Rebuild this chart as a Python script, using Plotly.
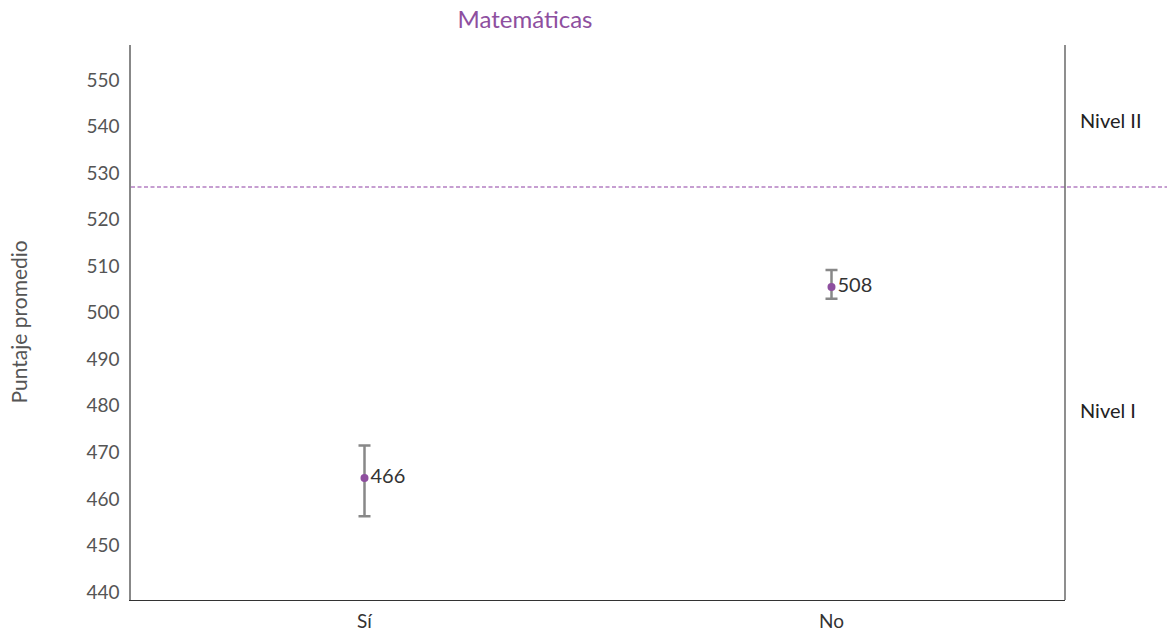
import plotly.graph_objects as go

categories = ["Sí", "No"]
means = [464.5, 505.5]
err_plus = [7.0, 3.7]
err_minus = [8.2, 2.5]
labels = ["466", "508"]
threshold = 527
level_labels = ["Nivel II", "Nivel I"]
level_label_y = [541.3, 479.2]

FONT = "Lato, 'Open Sans', sans-serif"
PURPLE = "#8e4f9f"

fig = go.Figure()
fig.add_trace(go.Scatter(
    x=[0, 1], y=means, mode="markers+text",
    text=labels, textposition="middle right",
    textfont=dict(size=20, color="#333333", family=FONT),
    marker=dict(color=PURPLE, size=8),
    error_y=dict(type="data", symmetric=False, array=err_plus, arrayminus=err_minus,
                 color="#888888", thickness=2.5, width=6),
    showlegend=False, cliponaxis=False,
))

fig.add_shape(type="line", xref="paper", yref="y", x0=0, x1=1.11, y0=threshold, y1=threshold,
              line=dict(color="#b47fc2", width=1.3, dash="4px,2.5px"))
fig.add_shape(type="line", xref="paper", yref="paper", x0=1, x1=1, y0=0, y1=1,
              line=dict(color="#444444", width=1.2))

for t, yy in zip(level_labels, level_label_y):
    fig.add_annotation(x=1.0135, xref="paper", y=yy, yref="y", text=t, showarrow=False,
                       xanchor="left", font=dict(size=20, color="#222222", family=FONT))

fig.add_annotation(x=(18 - 131) / 934, xref="paper", y=0.5, yref="paper", text="Puntaje promedio",
                   textangle=-90, showarrow=False, xanchor="center", yanchor="middle",
                   font=dict(size=21, color="#555555", family=FONT))

fig.update_layout(
    width=1167, height=635,
    margin=dict(l=131, r=102, t=45, b=35, autoexpand=False),
    paper_bgcolor="white", plot_bgcolor="white",
    font=dict(family=FONT, size=19, color="#555555"),
    title=dict(text="Matemáticas", x=525 / 1167, xanchor="center", y=1 - 20 / 635, yanchor="middle",
               font=dict(size=24, color=PURPLE, family=FONT)),
    xaxis=dict(range=[-0.5, 1.5], tickvals=[0, 1], ticktext=categories, showgrid=False,
               zeroline=False, showline=True, linecolor="#333333", linewidth=1.2, automargin=False,
               ticks="", ticklabelstandoff=4, tickfont=dict(size=19, color="#333333")),
    yaxis=dict(range=[438.3, 557.5], tickvals=list(range(440, 551, 10)), showgrid=False,
               zeroline=False, showline=True, linecolor="#888888", linewidth=1.5, automargin=False,
               ticks="", ticklabelstandoff=6, tickfont=dict(size=19, color="#555555")),
)

fig.write_html("out.html")
